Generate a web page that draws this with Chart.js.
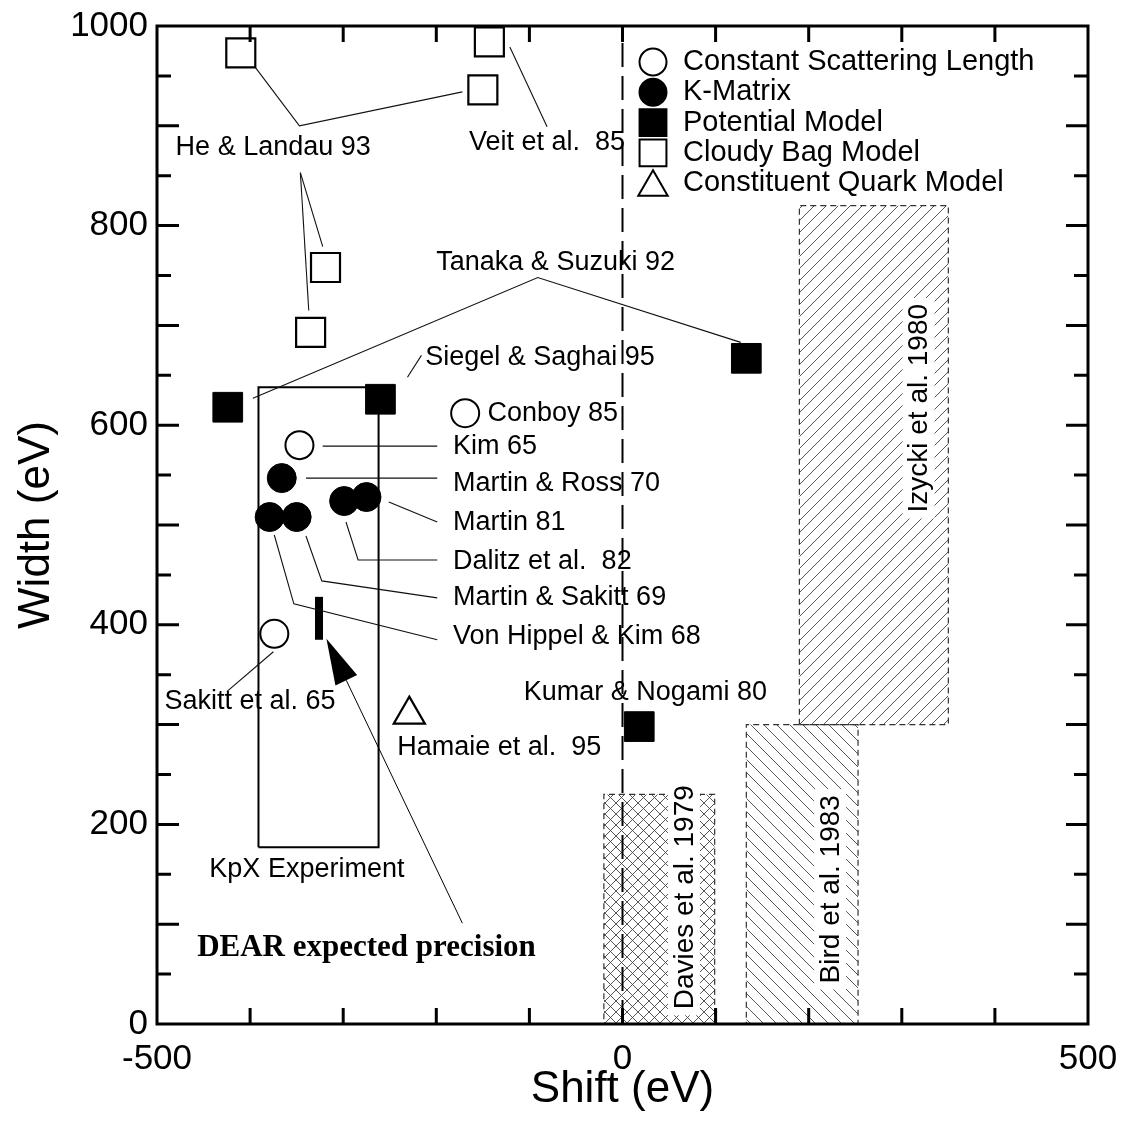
<!DOCTYPE html>
<html>
<head>
<meta charset="utf-8">
<script src="https://cdn.jsdelivr.net/npm/chart.js@4.4.1/dist/chart.umd.min.js"></script>
<style>
  html, body { margin: 0; padding: 0; background: #fff; }
</style>
</head>
<body>
<canvas id="chart" width="1123" height="1134"></canvas>
<script>
// theory predictions (shift, width) in eV
const cslRefs = ['Conboy 85', 'Kim 65', 'Sakitt et al. 65'];
const cslShift = [-169, -347, -374];
const cslWidth = [612, 580, 391];

const kmRefs = ['Martin & Ross 70', 'Von Hippel & Kim 68', 'Martin & Sakitt 69', 'Dalitz et al. 82', 'Martin 81'];
const kmShift = [-366, -379, -350, -299, -275];
const kmWidth = [547, 508, 508, 524, 528];

const potRefs = ['Tanaka & Suzuki 92', 'Siegel & Saghai 95', 'Tanaka & Suzuki 92', 'Kumar & Nogami 80'];
const potShift = [-424, -260, 133, 18];
const potWidth = [618, 626, 667, 298];

const cbmRefs = ['He & Landau 93', 'Veit et al. 85', 'He & Landau 93', 'He & Landau 93', 'He & Landau 93'];
const cbmShift = [-410, -143, -150, -319, -335];
const cbmWidth = [973, 984, 936, 758, 693];

const cqmRefs = ['Hamaie et al. 95'];
const cqmShift = [-229];
const cqmWidth = [310];

// experiments (ranges)
const boxNames = ['Davies et al. 1979', 'Bird et al. 1983', 'Izycki et al. 1980'];
const boxShiftLo = [-20, 133, 190];
const boxShiftHi = [99, 253, 350];
const boxWidthLo = [0, 0, 300];
const boxWidthHi = [230, 300, 820];

const kpxShift = [-391, -262];
const kpxWidth = [177, 638];

const dearShift = [-326, -326];
const dearWidth = [385, 428];

// axes
const xTickLabels = [-500, 0, 500];
const yTickLabels = [0, 200, 400, 600, 800, 1000];
const xMinorTicks = [-400, -300, -200, -100, 0, 100, 200, 300, 400];
const yMinorTicks = [50, 100, 150, 200, 250, 300, 350, 400, 450, 500, 550, 600, 650, 700, 750, 800, 850, 900, 950];

const FONT = '"Liberation Sans", Arial, Helvetica, sans-serif';
Chart.defaults.font.family = FONT;
Chart.defaults.color = '#000';

const ctx = document.getElementById('chart').getContext('2d');

function pts(xs, ys) {
  return xs.map((x, i) => ({ x, y: ys[i] }));
}

function rectPts(x0, x1, y0, y1) {
  return [{ x: x0, y: y0 }, { x: x1, y: y0 }, { x: x1, y: y1 }, { x: x0, y: y1 }, { x: x0, y: y0 }];
}

function hatch(kind, size) {
  const c = document.createElement('canvas');
  c.width = size;
  c.height = size;
  const g = c.getContext('2d');
  g.strokeStyle = '#444';
  g.lineWidth = 0.9;
  g.beginPath();
  if (kind !== 'back') {
    g.moveTo(-1, size + 1); g.lineTo(size + 1, -1);
    g.moveTo(-1, 1); g.lineTo(1, -1);
    g.moveTo(size - 1, size + 1); g.lineTo(size + 1, size - 1);
  }
  if (kind !== 'fwd') {
    g.moveTo(-1, -1); g.lineTo(size + 1, size + 1);
    g.moveTo(size - 1, -1); g.lineTo(size + 1, 1);
    g.moveTo(-1, size - 1); g.lineTo(1, size + 1);
  }
  g.stroke();
  return ctx.createPattern(c, 'repeat');
}

const boxHatch = [hatch('cross', 11), hatch('back', 13), hatch('fwd', 12)];

const markerDefaults = { showLine: false, clip: false, order: 0 };

const datasets = [
  { ...markerDefaults, label: 'Constant Scattering Length', data: pts(cslShift, cslWidth),
    pointStyle: 'circle', pointRadius: 14, backgroundColor: '#fff', borderColor: '#000', borderWidth: 2 },
  { ...markerDefaults, label: 'K-Matrix', data: pts(kmShift, kmWidth),
    pointStyle: 'circle', pointRadius: 14.5, backgroundColor: '#000', borderColor: '#000', borderWidth: 1 },
  { ...markerDefaults, label: 'Potential Model', data: pts(potShift, potWidth),
    pointStyle: 'rect', pointRadius: 21, backgroundColor: '#000', borderColor: '#000', borderWidth: 1 },
  { ...markerDefaults, label: 'Cloudy Bag Model', data: pts(cbmShift, cbmWidth),
    pointStyle: 'rect', pointRadius: 20.5, backgroundColor: '#fff', borderColor: '#000', borderWidth: 2.2 },
  { ...markerDefaults, label: 'Constituent Quark Model', data: pts(cqmShift, cqmWidth),
    pointStyle: 'triangle', pointRadius: 18, backgroundColor: '#fff', borderColor: '#000', borderWidth: 2.2 },
  { type: 'line', label: 'DEAR', data: pts(dearShift, dearWidth), borderColor: '#000', borderWidth: 8,
    borderCapStyle: 'butt', pointRadius: 0, fill: false, order: 1 },
  { type: 'line', label: 'KpX Experiment', data: rectPts(kpxShift[0], kpxShift[1], kpxWidth[0], kpxWidth[1]),
    borderColor: '#000', borderWidth: 2, pointRadius: 0, fill: false, order: 2 },
  { type: 'line', label: 'zero', data: [{ x: 0, y: 0 }, { x: 0, y: 1000 }], borderColor: '#000', borderWidth: 2,
    borderDash: [24, 9], pointRadius: 0, fill: false, order: 2 }
];

boxNames.forEach((name, i) => {
  datasets.push({
    type: 'line', label: name + ' area',
    data: [{ x: boxShiftLo[i], y: boxWidthHi[i] }, { x: boxShiftHi[i], y: boxWidthHi[i] }],
    fill: { value: boxWidthLo[i] }, backgroundColor: boxHatch[i],
    borderColor: 'rgba(0,0,0,0)', borderWidth: 1, pointRadius: 0, order: 5
  });
  datasets.push({
    type: 'line', label: name,
    data: rectPts(boxShiftLo[i], boxShiftHi[i], boxWidthLo[i], boxWidthHi[i]),
    fill: false, borderColor: '#333', borderWidth: 1.2, borderDash: [6, 4], pointRadius: 0, order: 4
  });
});

// annotation geometry in data units (eV)
const leaderLines = [
  [[-394, 958], [-347, 900], [-172, 934]],
  [[-346, 853], [-322, 779]],
  [[-346, 853], [-337, 715]],
  [[-121, 979], [-81, 899]],
  [[-397, 627], [-91, 748], [127, 683]],
  [[-216, 670], [-231, 648]],
  [[-322, 579], [-199, 579]],
  [[-340, 547], [-199, 547]],
  [[-251, 523], [-199, 503]],
  [[-297, 503], [-284, 465], [-199, 465]],
  [[-340, 489], [-323, 444], [-199, 427]],
  [[-374, 490], [-353, 421], [-199, 385]],
  [[-425, 333], [-375, 373]]
];

const refLabels = [
  { t: 'He & Landau 93', x: -480, y: 878 },
  { t: 'Veit et al.  85', x: -165, y: 883 },
  { t: 'Tanaka & Suzuki 92', x: -200, y: 763 },
  { t: 'Siegel & Saghai 95', x: -212, y: 668 },
  { t: 'Conboy 85', x: -145, y: 612 },
  { t: 'Kim 65', x: -182, y: 579 },
  { t: 'Martin & Ross 70', x: -182, y: 542 },
  { t: 'Martin 81', x: -182, y: 502 },
  { t: 'Dalitz et al.  82', x: -182, y: 463 },
  { t: 'Martin & Sakitt 69', x: -182, y: 427 },
  { t: 'Von Hippel & Kim 68', x: -182, y: 388 },
  { t: 'Sakitt et al. 65', x: -492, y: 323 },
  { t: 'Hamaie et al.  95', x: -242, y: 277 },
  { t: 'Kumar & Nogami 80', x: -106, y: 332 },
  { t: 'KpX Experiment', x: -339, y: 155, align: 'center' }
];

const boxLabelPos = [[66, 127], [223, 135], [318, 617]];
const dearArrow = { from: [-172, 101], to: [-318, 386] };
const dearLabel = { t: 'DEAR expected precision', x: -275, y: 76 };

const annotations = {
  id: 'annotations',
  afterDatasetsDraw(chart) {
    const c = chart.ctx;
    const xs = chart.scales.x, ys = chart.scales.y;
    const px = (p) => [xs.getPixelForValue(p[0]), ys.getPixelForValue(p[1])];
    c.save();

    // leader lines
    c.strokeStyle = '#111';
    c.lineWidth = 1.1;
    leaderLines.forEach((line) => {
      c.beginPath();
      line.forEach((p, i) => {
        const [a, b] = px(p);
        if (i === 0) c.moveTo(a, b); else c.lineTo(a, b);
      });
      c.stroke();
    });

    // reference labels
    c.fillStyle = '#000';
    c.font = '27px ' + FONT;
    c.textBaseline = 'middle';
    refLabels.forEach((l) => {
      const [a, b] = px([l.x, l.y]);
      c.textAlign = l.align || 'left';
      c.fillText(l.t, a, b);
    });

    // rotated experiment labels on white
    c.font = '28px ' + FONT;
    c.textAlign = 'center';
    boxNames.forEach((name, i) => {
      const [a, b] = px(boxLabelPos[i]);
      const w = c.measureText(name).width;
      c.save();
      c.translate(a, b);
      c.rotate(-Math.PI / 2);
      c.fillStyle = '#fff';
      c.fillRect(-w / 2 - 6, -16, w + 12, 32);
      c.fillStyle = '#000';
      c.fillText(name, 0, 1);
      c.restore();
    });

    // DEAR arrow
    const [x0, y0] = px(dearArrow.from);
    const [x1, y1] = px(dearArrow.to);
    const ang = Math.atan2(y1 - y0, x1 - x0);
    const headLen = 46, headHalf = 12;
    const bx = x1 - headLen * Math.cos(ang), by = y1 - headLen * Math.sin(ang);
    c.strokeStyle = '#000';
    c.lineWidth = 1;
    c.beginPath();
    c.moveTo(x0, y0);
    c.lineTo(bx, by);
    c.stroke();
    c.beginPath();
    c.moveTo(x1, y1);
    c.lineTo(bx + headHalf * Math.sin(ang), by - headHalf * Math.cos(ang));
    c.lineTo(bx - headHalf * Math.sin(ang), by + headHalf * Math.cos(ang));
    c.closePath();
    c.fillStyle = '#000';
    c.fill();

    c.font = 'bold 31px "Liberation Serif", "Times New Roman", serif';
    c.textAlign = 'center';
    const [dx, dy] = px([dearLabel.x, dearLabel.y]);
    c.fillText(dearLabel.t, dx, dy);

    // frame and inward ticks
    const area = chart.chartArea;
    c.strokeStyle = '#000';
    c.lineWidth = 3;
    c.strokeRect(area.left, area.top, area.right - area.left, area.bottom - area.top);
    c.beginPath();
    xMinorTicks.forEach((v) => {
      const a = xs.getPixelForValue(v);
      c.moveTo(a, area.bottom); c.lineTo(a, area.bottom - 16);
      c.moveTo(a, area.top); c.lineTo(a, area.top + 16);
    });
    yMinorTicks.forEach((v) => {
      const b = ys.getPixelForValue(v);
      const len = v % 100 === 0 ? 22 : 14;
      c.moveTo(area.left, b); c.lineTo(area.left + len, b);
      c.moveTo(area.right, b); c.lineTo(area.right - len, b);
    });
    c.stroke();

    // legend
    const lx = 653, ly0 = 62, lstep = 30.3;
    c.font = '29px ' + FONT;
    c.textAlign = 'left';
    const legendSets = [0, 1, 2, 3, 4];
    const legendRadius = [13.5, 13.5, 19, 19, 17];
    legendSets.forEach((di, i) => {
      const ds = chart.data.datasets[di];
      const y = ly0 + i * lstep;
      c.fillStyle = ds.backgroundColor;
      c.strokeStyle = ds.borderColor;
      c.lineWidth = 2;
      Chart.helpers.drawPoint(c, { pointStyle: ds.pointStyle, radius: legendRadius[i], rotation: 0, borderWidth: 2 }, lx, y + (ds.pointStyle === 'triangle' ? 4 : 0));
      c.fillStyle = '#000';
      c.fillText(ds.label, 683, y);
    });

    c.restore();
  }
};

new Chart(ctx, {
  type: 'scatter',
  data: { datasets },
  options: {
    responsive: false,
    animation: false,
    events: [],
    layout: { padding: { top: 26, right: 35, left: 0, bottom: 0 } },
    plugins: { legend: { display: false }, tooltip: { enabled: false } },
    scales: {
      x: {
        type: 'linear', min: -500, max: 500,
        afterBuildTicks: (s) => { s.ticks = xTickLabels.map((v) => ({ value: v })); },
        afterFit: (s) => { s.height = 110; s.paddingLeft = 0; s.paddingRight = 0; },
        ticks: { font: { size: 35 }, color: '#000', padding: 14, callback: (v) => String(v) },
        grid: { display: false, drawTicks: false },
        border: { display: false },
        title: { display: true, text: 'Shift (eV)', font: { size: 44 }, color: '#000', padding: { top: 0, bottom: 18 } }
      },
      y: {
        type: 'linear', min: 0, max: 1000,
        afterBuildTicks: (s) => { s.ticks = yTickLabels.map((v) => ({ value: v })); },
        afterFit: (s) => { s.width = 157; s.paddingTop = 0; s.paddingBottom = 0; },
        ticks: { font: { size: 35 }, color: '#000', padding: 9, callback: (v) => String(v) },
        grid: { display: false, drawTicks: false },
        border: { display: false },
        title: { display: true, text: 'Width (eV)', font: { size: 44 }, color: '#000', padding: { top: 10, bottom: 0 } }
      }
    }
  },
  plugins: [annotations]
});
</script>
</body>
</html>
